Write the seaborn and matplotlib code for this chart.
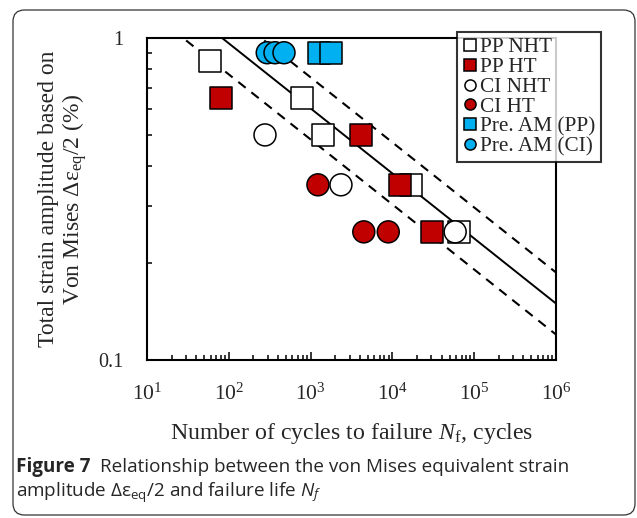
import numpy as np
import pandas as pd
import matplotlib
matplotlib.use("Agg")
import matplotlib.pyplot as plt
from matplotlib.lines import Line2D
from matplotlib.patches import FancyBboxPatch
import seaborn as sns

# values (N_f in cycles, strain amplitude in %)
pp_nht_n = [59, 785, 1415, 16900, 65000]
pp_nht_amp = [0.85, 0.65, 0.50, 0.35, 0.25]
pp_ht_n = [80, 4130, 12400, 30400]
pp_ht_amp = [0.65, 0.50, 0.35, 0.25]
ci_nht_n = [277, 2350, 58500]
ci_nht_amp = [0.50, 0.35, 0.25]
ci_ht_n = [1230, 4470, 8900]
ci_ht_amp = [0.35, 0.25, 0.25]
pre_pp_n = [1260, 1780]
pre_pp_amp = [0.90, 0.90]
pre_ci_n = [295, 367, 473]
pre_ci_amp = [0.90, 0.90, 0.90]

groups = ["PP NHT", "PP HT", "CI NHT", "CI HT", "Pre. AM (PP)", "Pre. AM (CI)"]
colors = ["white", "#C00000", "white", "#C00000", "#00B0F0", "#00B0F0"]
markers = ["s", "s", "o", "o", "s", "o"]

# fitted curve: amp = A * N^b, scatter band = factor 3 on life
fit_a = 2.44
fit_b = -0.202
band = 3.0

frames = []
for g, n, a in zip(groups,
                   [pp_nht_n, pp_ht_n, ci_nht_n, ci_ht_n, pre_pp_n, pre_ci_n],
                   [pp_nht_amp, pp_ht_amp, ci_nht_amp, ci_ht_amp, pre_pp_amp, pre_ci_amp]):
    frames.append(pd.DataFrame({"N": n, "amp": a, "group": g}))
df = pd.concat(frames, ignore_index=True)

sns.set_style("white")
plt.rcParams["font.family"] = ["Liberation Serif", "DejaVu Serif"]
plt.rcParams["mathtext.fontset"] = "custom"
plt.rcParams["mathtext.rm"] = "Liberation Serif"
plt.rcParams["mathtext.it"] = "Liberation Serif:italic"
plt.rcParams["mathtext.sf"] = "Open Sans"
plt.rcParams["mathtext.cal"] = "Open Sans:italic"

fig = plt.figure(figsize=(6.37, 5.18), dpi=100)
ax = fig.add_axes([147 / 637, 1 - 360 / 518, 409 / 637, 322 / 518])

nn = np.logspace(1, 6.05, 200)
ax.plot(nn, fit_a * nn ** fit_b, color="black", lw=1.4, zorder=1)
ax.plot(nn, fit_a * (nn / band) ** fit_b, color="black", lw=1.5, ls=(0, (4.5, 3.5)), zorder=1)
ax.plot(nn, fit_a * (nn * band) ** fit_b, color="black", lw=1.5, ls=(0, (4.5, 3.5)), zorder=1)

sns.scatterplot(data=df, x="N", y="amp", hue="group", style="group",
                palette=dict(zip(groups, colors)), markers=dict(zip(groups, markers)),
                s=250, edgecolor="black", linewidth=1.1, legend=False, ax=ax, zorder=3)

ax.set_xscale("log")
ax.set_yscale("log")
ax.set_xlim(10, 1e6)
ax.set_ylim(0.1, 1)
ax.set_yticks([0.1, 1])
ax.set_yticklabels(["0.1", "1"])
ax.tick_params(axis="both", which="both", direction="in", top=False, right=False,
               bottom=True, left=True, width=1.1, color="black")
ax.tick_params(axis="x", which="major", length=5.5, pad=17, labelsize=15.5)
ax.tick_params(axis="x", which="minor", length=3.5)
ax.tick_params(axis="y", which="major", length=0, pad=17, labelsize=14.5)
ax.tick_params(axis="y", which="minor", length=3.5, labelleft=False)
for sp in ax.spines.values():
    sp.set_linewidth(1.5)
    sp.set_color("black")

ax.set_xlabel("Number of cycles to failure $N_{\\rm f}$, cycles", fontsize=17.2)
ax.xaxis.label.set_va("center")
ax.xaxis.set_label_coords(0.5, -(433 - 360) / 322)
ax.set_ylabel("Total strain amplitude based on\nVon Mises $\\Delta\\mathrm{\\varepsilon}_{\\rm eq}$/2 (%)",
              fontsize=17, linespacing=1.05)
ax.yaxis.label.set_va("center")
ax.yaxis.set_label_coords(-(147 - 63.5) / 409, 0.5)

handles = [Line2D([], [], marker=m, ls="", mfc=c, mec="black", ms=8, mew=1.1)
           for m, c in zip(markers, colors)]
leg = ax.legend(handles, groups, loc="upper left",
                bbox_to_anchor=(457 / 637, 1 - 32 / 518), bbox_transform=fig.transFigure,
                fontsize=15.3, frameon=True, fancybox=False, handlelength=0.7,
                handletextpad=0.15, labelspacing=0.0, borderpad=0.25, borderaxespad=0)
leg.get_frame().set_edgecolor("black")
leg.get_frame().set_linewidth(1.5)

# caption panel
box = FancyBboxPatch((13 / 637, 3 / 518), 622 / 637, 505 / 518,
                     boxstyle="round,pad=0,rounding_size=0.018", mutation_aspect=637 / 518,
                     transform=fig.transFigure, facecolor="none", edgecolor="#333333",
                     lw=0.9, zorder=0)
fig.patches.append(box)

cap_size = 13.6
t1 = fig.text(16 / 637, 1 - 467 / 518, "Figure 7", fontsize=cap_size, fontweight="bold",
              family="Open Sans", va="center")
fig.canvas.draw()
bb = t1.get_window_extent()
fig.text((bb.x1 + 9) / 637, 1 - 467 / 518,
         "Relationship between the von Mises equivalent strain",
         fontsize=cap_size, family="Open Sans", va="center")
fig.text(16 / 637, 1 - 493 / 518,
         "amplitude $\\mathsf{\\Delta\\varepsilon_{eq}}$/2 and failure life $\\mathcal{N}_\\mathcal{f}$",
         fontsize=cap_size, family="Open Sans", va="center")

fig.savefig("out.png", dpi=100)
